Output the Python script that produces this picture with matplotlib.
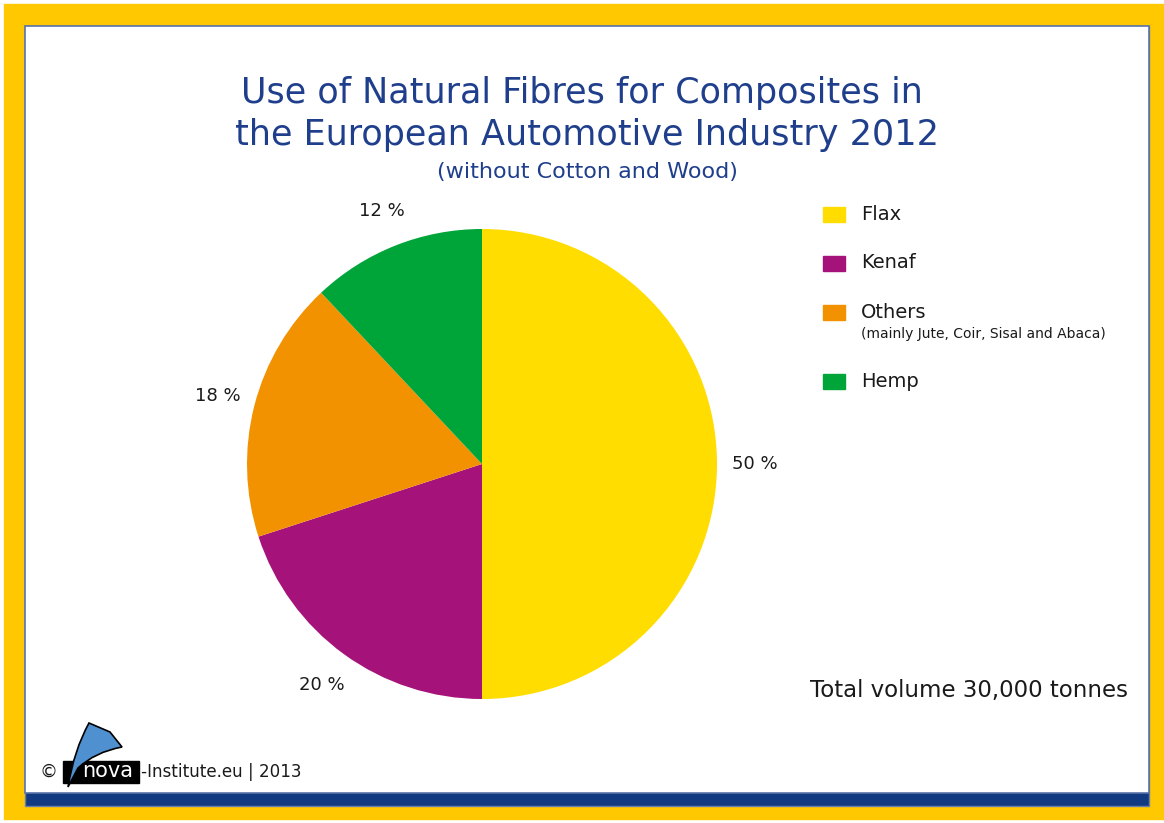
import matplotlib
matplotlib.use("Agg")
import matplotlib.pyplot as plt
from matplotlib.patches import Rectangle, PathPatch
from matplotlib.path import Path

categories = ["Flax", "Kenaf", "Others", "Hemp"]
shares = [50, 20, 18, 12]
colors = ["#FFDD00", "#A5127A", "#F39200", "#00A53A"]
sublabels = ["", "", "(mainly Jute, Coir, Sisal and Abaca)", ""]
title_lines = ["Use of Natural Fibres for Composites in",
               "the European Automotive Industry 2012"]
subtitle = "(without Cotton and Wood)"
total_note = "Total volume 30,000 tonnes"
footer = "-Institute.eu | 2013"

W, H = 1164, 823
fig = plt.figure(figsize=(W / 100, H / 100), dpi=100)
fig.patch.set_facecolor("white")
FONT = "DejaVu Sans"
TCOL = "#1F3F8C"
KCOL = "#1a1a1a"

def fx(x):
    return x / W

def fy(y):
    return 1 - y / H

# background frame
bg = fig.add_axes([0, 0, 1, 1])
bg.set_xlim(0, W)
bg.set_ylim(H, 0)
bg.axis("off")
bg.add_patch(Rectangle((4, 4), W - 4, 815, color="#FFC800", zorder=0))
bg.add_patch(Rectangle((25, 26), 1124, 780, facecolor="#123A80", edgecolor="#6A7FA8", lw=1, zorder=1))
bg.add_patch(Rectangle((25, 26), 1124, 767, facecolor="white", edgecolor="#5A73A8", lw=1.2, zorder=2))

# title
bg.text(582, 93, title_lines[0], ha="center", va="center", fontsize=25.2, color=TCOL, family=FONT, zorder=5)
bg.text(587, 135, title_lines[1], ha="center", va="center", fontsize=25.2, color=TCOL, family=FONT, zorder=5)
bg.text(587, 172, subtitle, ha="center", va="center", fontsize=16, color=TCOL, family=FONT, zorder=5)

# pie
cx, cy, R = 482, 464, 235
pax = fig.add_axes([fx(cx - R), fy(cy + R), 2 * R / W, 2 * R / H])
wedges, texts, autotexts = pax.pie(shares, colors=colors, startangle=90, counterclock=False,
                                   autopct=lambda p: f"{p:.0f} %", pctdistance=1.16,
                                   wedgeprops=dict(linewidth=0),
                                   textprops=dict(fontsize=13, color=KCOL, family=FONT))
pax.set_xlim(-1, 1)
pax.set_ylim(-1, 1)
pax.set_aspect("equal")
pax.axis("off")

# legend
leg_y = [214, 263, 312, 381]
for cat, col, sub, y in zip(categories, colors, sublabels, leg_y):
    bg.add_patch(Rectangle((823, y - 7), 22, 15, color=col, zorder=5))
    bg.text(861, y, cat, ha="left", va="center", fontsize=14, color=KCOL, family=FONT, zorder=5)
    if sub:
        bg.text(861, y + 22, sub, ha="left", va="center", fontsize=10, color=KCOL, family=FONT, zorder=5)

bg.text(1128, 690, total_note, ha="right", va="center", fontsize=16.5, color=KCOL, family=FONT, zorder=5)

# footer with logo
bg.text(49, 772, "\u00a9", ha="center", va="center", fontsize=13, color=KCOL, family=FONT, zorder=5)
bg.add_patch(Rectangle((63, 761), 76, 22, color="black", zorder=5))
verts = [(68, 787), (74, 750), (89, 723), (110, 732), (122, 747),
         (95, 752), (78, 768), (68, 787)]
codes = [Path.MOVETO, Path.CURVE3, Path.CURVE3, Path.LINETO, Path.LINETO,
         Path.CURVE3, Path.CURVE3, Path.CLOSEPOLY]
bg.add_patch(PathPatch(Path(verts, codes), facecolor="#4F91D0", edgecolor="black", lw=1.2, zorder=6))
bg.text(108, 771, "nova", ha="center", va="center", fontsize=15, color="white", family=FONT, zorder=7)
bg.text(141, 772, footer, ha="left", va="center", fontsize=12.1, color=KCOL, family=FONT, zorder=5)

fig.savefig("out.png", dpi=100, facecolor="white")
